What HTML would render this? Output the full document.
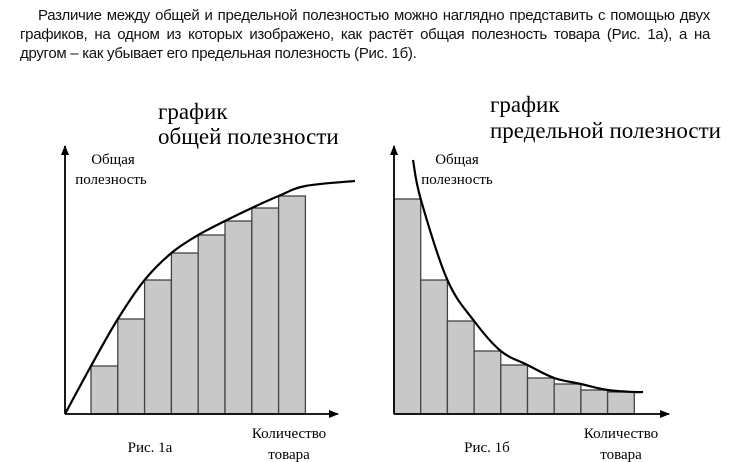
<!DOCTYPE html>
<html><head><meta charset="utf-8"><style>
body{margin:0;background:#fff;width:729px;height:462px;overflow:hidden;position:relative}
#para{position:absolute;left:20px;top:6px;width:690px;font:15px "Liberation Sans",sans-serif;line-height:19px;text-align:justify;color:#111;letter-spacing:-0.3px}
#para p{margin:0;text-indent:18px}
svg{position:absolute;left:0;top:0}
svg text{font-family:"Liberation Serif",serif;fill:#000}
</style></head><body>
<div id="para"><p>Различие между общей и предельной полезностью можно наглядно представить с помощью двух графиков, на одном из которых изображено, как растёт общая полезность товара (Рис. 1а), а на другом – как убывает его предельная полезность (Рис. 1б).</p></div>
<svg id="chart" width="729" height="462">
<defs><marker id="ar" markerWidth="10" markerHeight="8" refX="9" refY="4" orient="auto" markerUnits="userSpaceOnUse"><path d="M0,0L10,4L0,8z" fill="#000"/></marker></defs>
<g id="g1"></g>
<g id="g2"></g>
<text x="158" y="119" font-size="23">график</text>
<text x="158" y="144" font-size="23">общей полезности</text>
<text x="490" y="112" font-size="23">график</text>
<text x="490" y="138" font-size="23">предельной полезности</text>
<text x="113" y="164" font-size="15" text-anchor="middle">Общая</text>
<text x="111" y="184" font-size="15" text-anchor="middle">полезность</text>
<text x="289" y="438" font-size="15" text-anchor="middle">Количество</text>
<text x="289" y="459" font-size="15" text-anchor="middle">товара</text>
<text x="150" y="452" font-size="15" text-anchor="middle">Рис. 1а</text>
<text x="457" y="164" font-size="15" text-anchor="middle">Общая</text>
<text x="457" y="184" font-size="15" text-anchor="middle">полезность</text>
<text x="621" y="438" font-size="15" text-anchor="middle">Количество</text>
<text x="621" y="459" font-size="15" text-anchor="middle">товара</text>
<text x="487" y="452" font-size="15" text-anchor="middle">Рис. 1б</text>
</svg>
<script>
const totalValues=[48,95,134,161,179,193,206,218];
const totalCurve=[0,48,95,134,161,179,193,206,218,228,233];
const marginalValues=[215,134,93,63,49,36,30,24,22];
const marginalCurve=[254,215,134,93,63,49,36,30,24,22,22];
const NS="http://www.w3.org/2000/svg";
function mk(p,t,a){const e=document.createElementNS(NS,t);for(const k in a)e.setAttribute(k,a[k]);p.appendChild(e);return e;}
function smooth(pts){let d="M"+pts[0][0]+","+pts[0][1];for(let i=0;i<pts.length-1;i++){const p0=pts[i-1]||pts[i],p1=pts[i],p2=pts[i+1],p3=pts[i+2]||p2;d+=" C"+(p1[0]+(p2[0]-p0[0])/6)+","+(p1[1]+(p2[1]-p0[1])/6)+" "+(p2[0]-(p3[0]-p1[0])/6)+","+(p2[1]-(p3[1]-p1[1])/6)+" "+p2[0]+","+p2[1];}return d;}
function draw(g,ox,oy,xEnd,barStart,bw,vals,curve,curveX0,curveXs,pre){
  vals.forEach((v,i)=>{
    const r=mk(g,"rect",{x:barStart+i*bw,y:oy-v,width:bw,height:v,fill:"#c8c8c8",stroke:"#444","stroke-width":1.3});
    
    
  });
  const ax=mk(g,"path",{d:`M${ox},${oy}L${ox},146`,stroke:"#000","stroke-width":1.8,"marker-end":"url(#ar)",fill:"none"});
  
  
  const ax2=mk(g,"path",{d:`M${ox},${oy}L${xEnd},${oy}`,stroke:"#000","stroke-width":1.8,"marker-end":"url(#ar)",fill:"none"});
  
  
  const pts=curve.map((v,i)=>[curveXs(i),oy-v]);
  const c=mk(g,"path",{d:smooth(pts),stroke:"#000","stroke-width":2.2,fill:"none"});
  
  
}
const bw1=26.8;
draw(document.getElementById("g1"),65,414,338,91,bw1,totalValues,totalCurve,65,i=>i===0?65:(i<=9?91+(i-1)*bw1:355),"total");
const bw2=26.7;
draw(document.getElementById("g2"),394,414,669,394,bw2,marginalValues,marginalCurve,413,i=>i===0?413:(i<=9?394+i*bw2:643),"marginal");
</script>
</body></html>
